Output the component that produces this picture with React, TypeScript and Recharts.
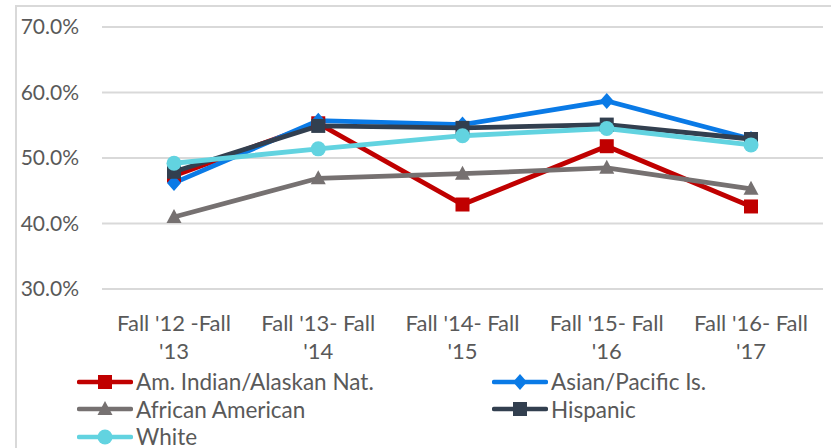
import React from 'react';
import { LineChart, Line, XAxis, YAxis, CartesianGrid } from 'recharts';

const categories = ["Fall '12 -Fall|'13", "Fall '13- Fall|'14", "Fall '14- Fall|'15", "Fall '15- Fall|'16", "Fall '16- Fall|'17"];
const amIndian = [0.473, 0.553, 0.429, 0.518, 0.426];
const asianPacific = [0.462, 0.557, 0.551, 0.587, 0.529];
const africanAmerican = [0.41, 0.469, 0.476, 0.485, 0.453];
const hispanic = [0.479, 0.549, 0.546, 0.551, 0.529];
const white = [0.492, 0.514, 0.534, 0.545, 0.52];
const yTicks = [0.3, 0.4, 0.5, 0.6, 0.7];

const FONT = 'Lato, "Noto Sans", sans-serif';
const TEXT = '#595959';

const data = categories.map((c, i) => ({
  cat: c,
  amIndian: amIndian[i],
  asianPacific: asianPacific[i],
  africanAmerican: africanAmerican[i],
  hispanic: hispanic[i],
  white: white[i],
}));

type Shape = 'square' | 'diamond' | 'triangle' | 'circle';

const series: { key: string; name: string; color: string; shape: Shape }[] = [
  { key: 'amIndian', name: 'Am. Indian/Alaskan Nat.', color: '#C00000', shape: 'square' },
  { key: 'asianPacific', name: 'Asian/Pacific Is.', color: '#0A7AE6', shape: 'diamond' },
  { key: 'africanAmerican', name: 'African American', color: '#767171', shape: 'triangle' },
  { key: 'hispanic', name: 'Hispanic', color: '#323F4F', shape: 'square' },
  { key: 'white', name: 'White', color: '#62D3E0', shape: 'circle' },
];

const Marker = ({ cx, cy, shape, color }: { cx: number; cy: number; shape: Shape; color: string }) => {
  if (cx == null || cy == null) return null;
  switch (shape) {
    case 'square':
      return <rect x={cx - 7} y={cy - 7} width={14} height={14} fill={color} />;
    case 'diamond':
      return <polygon points={`${cx},${cy - 8} ${cx + 7},${cy} ${cx},${cy + 8} ${cx - 7},${cy}`} fill={color} />;
    case 'triangle':
      return <polygon points={`${cx},${cy - 8} ${cx + 7.5},${cy + 6} ${cx - 7.5},${cy + 6}`} fill={color} />;
    default:
      return <circle cx={cx} cy={cy} r={7.5} fill={color} />;
  }
};

const XTick = (props: any) => {
  const { x, y, payload } = props;
  const [a, b] = String(payload.value).split('|');
  return (
    <g transform={`translate(${x},${y})`}>
      <text textAnchor="middle" fill={TEXT} fontSize={22} fontFamily={FONT}>
        <tspan x={0} y={28} dominantBaseline="middle">{a}</tspan>
        <tspan x={0} y={56} dominantBaseline="middle">{b}</tspan>
      </text>
    </g>
  );
};

const LegendItem = ({ s }: { s: (typeof series)[number] }) => (
  <div style={{ display: 'flex', alignItems: 'center', height: 27.5 }}>
    <svg width={56} height={20}>
      <line x1={2} y1={10} x2={54} y2={10} stroke={s.color} strokeWidth={4.5} strokeLinecap="round" />
      <Marker cx={28} cy={10} shape={s.shape} color={s.color} />
    </svg>
    <span style={{ marginLeft: 3, fontSize: 22.5, color: TEXT, fontFamily: FONT, whiteSpace: 'nowrap' }}>{s.name}</span>
  </div>
);

export default function App() {
  return (
    <div style={{ position: 'absolute', left: 0, top: 0, width: 831, height: 448, overflow: 'hidden', background: '#fff' }}>
      <div style={{ position: 'absolute', left: 15, top: 5, width: 840, height: 460, border: '2px solid #D9D9D9' }} />
      <div style={{ position: 'absolute', left: 0, top: 0 }}>
        <LineChart width={831} height={448} data={data} margin={{ top: 27, right: 8, left: 22, bottom: 89 }}>
          <CartesianGrid vertical={false} stroke="#D9D9D9" strokeWidth={2} />
          <XAxis
            dataKey="cat"
            axisLine={false}
            tickLine={false}
            height={70}
            interval={0}
            padding={{ left: 72, right: 72 }}
            tick={<XTick />}
          />
          <YAxis
            domain={[0.3, 0.7]}
            ticks={yTicks}
            width={80}
            axisLine={false}
            tickLine={false}
            tickSize={0}
            tickMargin={23}
            tickFormatter={(v: number) => `${(v * 100).toFixed(1)}%`}
            tick={{ fill: TEXT, fontSize: 21, fontFamily: FONT }}
          />
          {series.map((s) => (
            <Line
              key={s.key}
              dataKey={s.key}
              name={s.name}
              stroke={s.color}
              strokeWidth={4.8}
              isAnimationActive={false}
              activeDot={false}
              dot={(p: any) => <Marker key={`${s.key}-${p.index}`} cx={p.cx} cy={p.cy} shape={s.shape} color={s.color} />}
            />
          ))}
        </LineChart>
      </div>
      <div style={{ position: 'absolute', left: 77, top: 368 }}>
        <LegendItem s={series[0]} />
        <LegendItem s={series[2]} />
        <LegendItem s={series[4]} />
      </div>
      <div style={{ position: 'absolute', left: 492, top: 368 }}>
        <LegendItem s={series[1]} />
        <LegendItem s={series[3]} />
      </div>
    </div>
  );
}
